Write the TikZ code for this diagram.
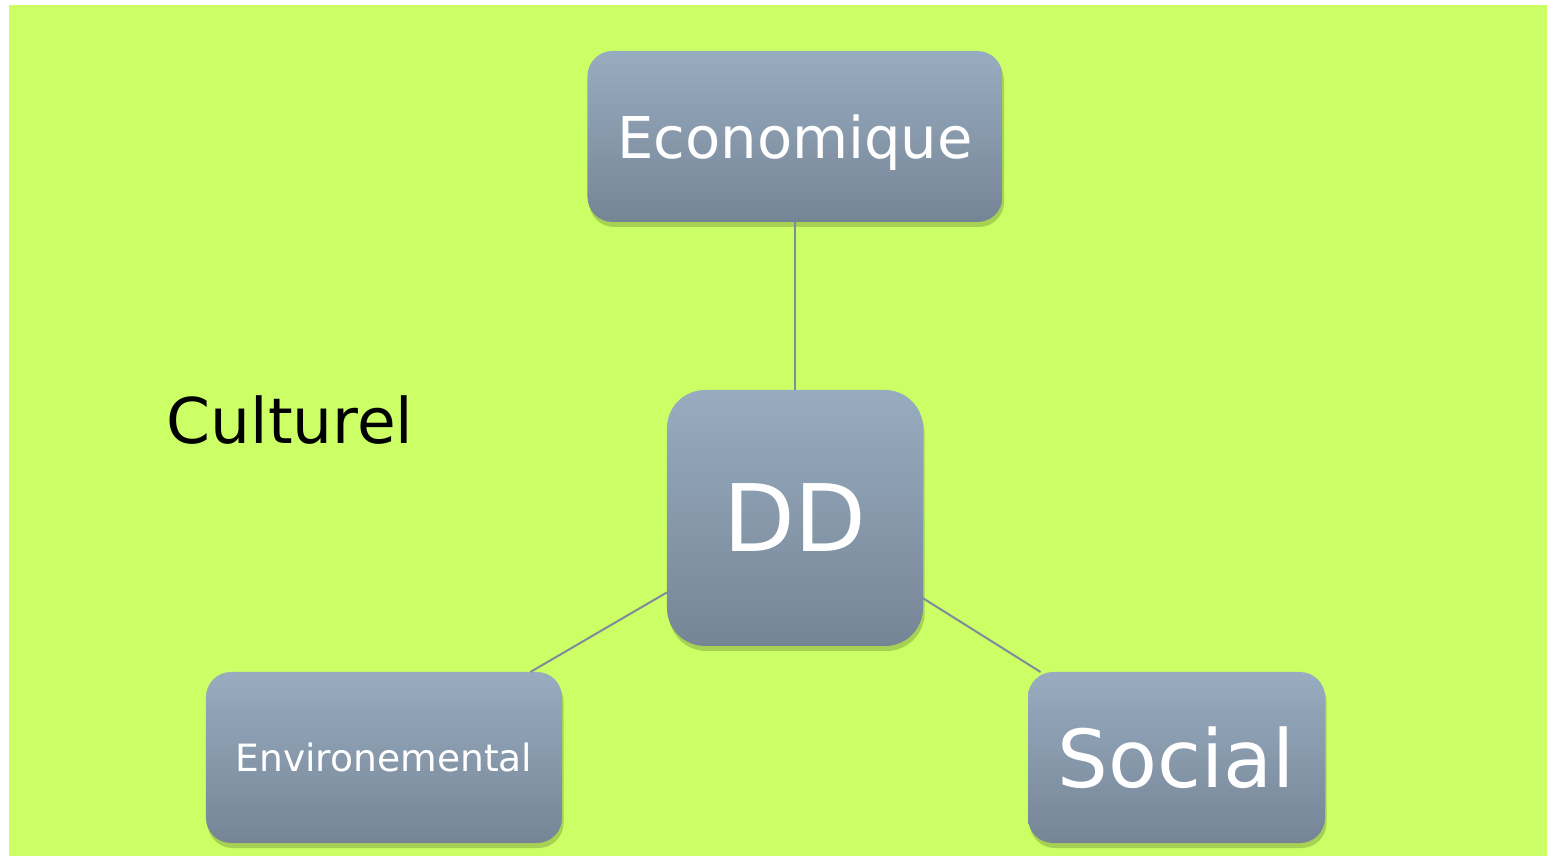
\documentclass[tikz,border=0pt]{standalone}
\usepackage{fontspec}
\setmainfont{DejaVu Sans}
\usepackage{tikz}
\usetikzlibrary{positioning}
\usetikzlibrary{shadows}
\definecolor{bggreen}{RGB}{204,255,102}
\definecolor{boxtop}{RGB}{152,172,192}
\definecolor{boxbot}{RGB}{118,133,150}
\definecolor{linegray}{RGB}{127,138,156}

\begin{document}
\begin{tikzpicture}
[box node/.style={rectangle, rounded corners=12.5pt, top color=boxtop,
    bottom color=boxbot, text=white, inner sep=0pt, outer sep=0pt,
    minimum height=85.5pt,
    drop shadow={fill=black, opacity=0.18, shadow xshift=0.8pt, shadow yshift=-2.5pt}},
  empt node/.style={inner sep=0pt, outer sep=0pt},
  link/.style={draw=linegray, line width=1pt}]

    \useasboundingbox (-397.5pt,259pt) rectangle (376pt,-169pt);
    \fill[bggreen] (-393pt,256.5pt) rectangle (376pt,-169pt);

    \node [box node, minimum width=128pt, minimum height=128pt,
      rounded corners=19pt, font=\fontsize{46.6}{50}\selectfont] (dd) at (0,0) {DD};
    \node [box node, minimum width=207.5pt, text depth=0pt,
      font=\fontsize{28.8}{32}\selectfont] (eco) [above=84pt of dd] {Economique};
    \node [box node, minimum width=178pt,
      font=\fontsize{18.8}{21}\selectfont] (env) [below left=13pt and 52.5pt of dd] {Environemental};
    \node [box node, minimum width=148.5pt,
      font=\fontsize{40}{43}\selectfont] (soc) [below right=13pt and 52.5pt of dd] {Social};
    \node [empt node, font=\fontsize{31.5}{34}\selectfont] (cult) at (-252.5pt,49pt) {Culturel};

    \draw[link] (eco) -- (dd);
    \draw[link] (env) -- (dd);
    \draw[link] (soc) -- (dd);
\end{tikzpicture}
\end{document}
